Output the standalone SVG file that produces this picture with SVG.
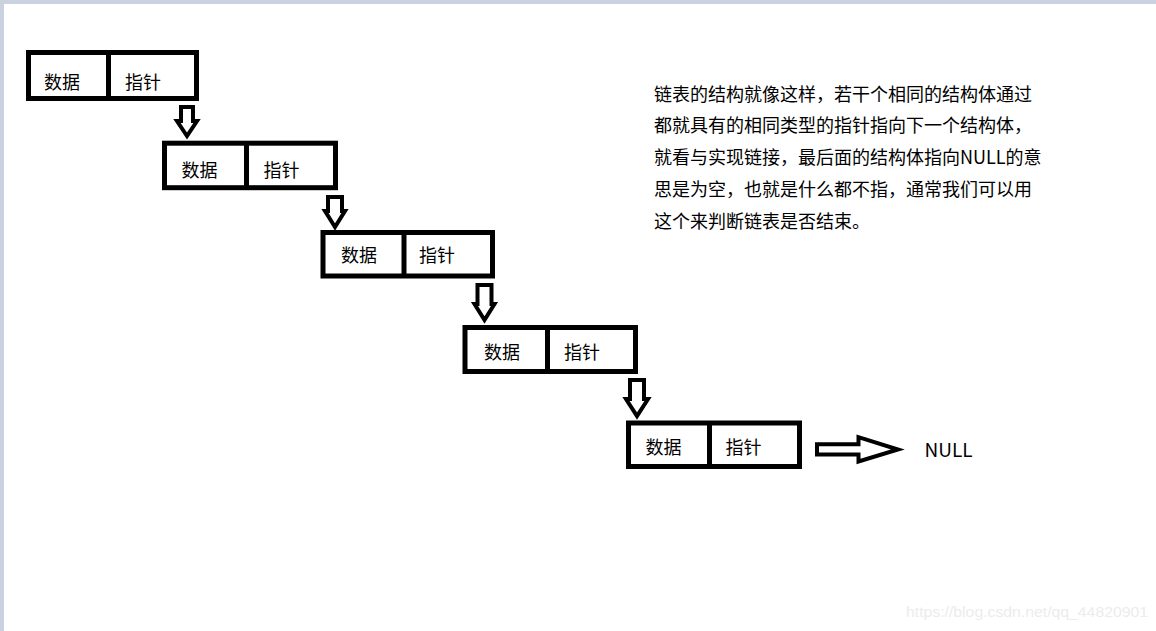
<svg xmlns="http://www.w3.org/2000/svg" width="1156" height="631" viewBox="0 0 1156 631">
<style>
.box{fill:#fff;stroke:#000;stroke-width:5}
.div{stroke:#000;stroke-width:5}
.t{font-family:"Noto Sans CJK SC","Microsoft YaHei",sans-serif;font-size:18px;fill:#000}
.arr{fill:#fff;stroke:#000;stroke-width:4;stroke-linejoin:miter}
.wm{font-family:"Liberation Sans",Arial,sans-serif;font-size:15px;fill:#ececec}
</style>
<rect x="0" y="0" width="1156" height="631" fill="#fff"/>
<rect x="0" y="0" width="1156" height="4" fill="#cad2e2"/>
<rect x="0" y="0" width="4" height="631" fill="#cad2e2"/>

<g id="node1">
<rect class="box" x="28.5" y="52.5" width="168" height="46"/>
<line class="div" x1="108.5" y1="52.5" x2="108.5" y2="98.5"/>
<text class="t" x="44" y="88.5">数据</text>
<text class="t" x="125" y="88.5">指针</text>
</g>
<g id="node2">
<rect class="box" x="164.5" y="143.2" width="171" height="44.5"/>
<line class="div" x1="246.5" y1="143.2" x2="246.5" y2="187.7"/>
<text class="t" x="181.5" y="177">数据</text>
<text class="t" x="263.5" y="177">指针</text>
</g>
<g id="node3">
<rect class="box" x="323" y="232.5" width="169.5" height="43.5"/>
<line class="div" x1="404" y1="232.5" x2="404" y2="276"/>
<text class="t" x="341" y="262">数据</text>
<text class="t" x="419" y="262">指针</text>
</g>
<g id="node4">
<rect class="box" x="465" y="327.5" width="170.5" height="44"/>
<line class="div" x1="547.5" y1="327.5" x2="547.5" y2="371.5"/>
<text class="t" x="484" y="358.5">数据</text>
<text class="t" x="564" y="358.5">指针</text>
</g>
<g id="node5">
<rect class="box" x="628.5" y="423" width="171" height="43.5"/>
<line class="div" x1="709.5" y1="423" x2="709.5" y2="466.5"/>
<text class="t" x="645.5" y="453.5">数据</text>
<text class="t" x="725.5" y="453.5">指针</text>
</g>

<g id="connectors">
<polygon class="arr" points="181,107 193,107 193,121 197,121 187,136 177,121 181,121"/>
<polygon class="arr" points="328,197 342,197 342,211 345,211 335,227 325,211 328,211"/>
<polygon class="arr" points="477.5,285 491.5,285 491.5,304 494.5,304 484.5,320 474.5,304 477.5,304"/>
<polygon class="arr" points="630,380 644,380 644,399 648,399 637,416 626,399 630,399"/>
<polygon class="arr" points="817,444.2 858.5,444.2 858.5,437.2 898,449.5 858.5,461.5 858.5,454.5 817,454.5"/>
</g>

<g id="null">
<text x="924.5" y="457" style="font-family:'Noto Sans CJK SC',sans-serif;font-size:19px;fill:#000">NULL</text>
</g>

<g id="description" class="t">
<text class="t" x="654" y="100.5">链表的结构就像这样，若干个相同的结构体通过</text>
<text class="t" x="654" y="132">都就具有的相同类型的指针指向下一个结构体，</text>
<text class="t" x="654" y="164">就看与实现链接，最后面的结构体指向NULL的意</text>
<text class="t" x="654" y="196">思是为空，也就是什么都不指，通常我们可以用</text>
<text class="t" x="654" y="228">这个来判断链表是否结束。</text>
</g>

<text class="wm" x="906" y="617" textLength="242" lengthAdjust="spacingAndGlyphs">https://blog.csdn.net/qq_44820901</text>
</svg>
